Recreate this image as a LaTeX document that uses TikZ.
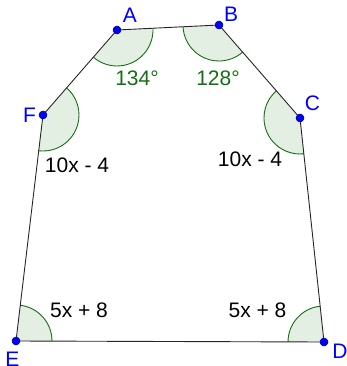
\documentclass[tikz,border=0pt]{standalone}
\usepackage{fontspec}
\setmainfont{Liberation Sans}
\usepackage{xcolor}
\usepackage{tikz}
\usetikzlibrary{angles}
\definecolor{anggreen}{RGB}{20,110,20}
\definecolor{angfill}{RGB}{228,239,228}
\definecolor{ptblue}{RGB}{0,0,255}

\begin{document}
\begin{tikzpicture}[x=1pt,y=1pt,
    pt/.style={circle,fill=ptblue,draw=ptblue!45!black,line width=0.5pt,inner sep=0pt,minimum size=8pt},
    ptlbl/.style={text=ptblue,inner sep=0pt,font=\fontsize{21}{25}\selectfont},
    val/.style={inner sep=0pt,font=\fontsize{21}{25}\selectfont},
    ang/.style={draw=anggreen,fill=angfill,line width=0.9pt,angle radius=36pt}]
      \useasboundingbox (0,0) rectangle (346,-366);
      \coordinate (A) at (117,-30);
      \coordinate (B) at (219,-25);
      \coordinate (C) at (300,-118);
      \coordinate (D) at (324,-342);
      \coordinate (E) at (16,-341);
      \coordinate (F) at (43,-115);
      % angle sectors
      \pic[ang] {angle = F--A--B};
      \pic[ang] {angle = A--B--C};
      \pic[ang] {angle = B--C--D};
      \pic[ang] {angle = C--D--E};
      \pic[ang] {angle = D--E--F};
      \pic[ang] {angle = E--F--A};
      % sides
      \draw[black!85,line width=0.9pt] (A) -- (B) -- (C) -- (D) -- (E) -- (F) -- cycle;
      \node[pt] (dA) at (A) {};
      \node[pt] (dB) at (B) {};
      \node[pt] (dC) at (C) {};
      \node[pt] (dD) at (D) {};
      \node[pt] (dE) at (E) {};
      \node[pt] (dF) at (F) {};
      \node[ptlbl] (lA) at (130,-15) {A};
      \node[ptlbl] (lB) at (231,-14.5) {B};
      \node[ptlbl] (lC) at (312.5,-103.5) {C};
      \node[ptlbl] (lD) at (340,-351) {D};
      \node[ptlbl] (lE) at (12.5,-359) {E};
      \node[ptlbl] (lF) at (29.5,-115) {F};
      \node[val,text=anggreen] (vA) at (137,-78) {134°};
      \node[val,text=anggreen] (vB) at (218,-78) {128°};
      \node[val] (vF) at (77,-165) {10x - 4};
      \node[val] (vC) at (250,-159.5) {10x - 4};
      \node[val] (vE) at (79,-310.5) {5x + 8};
      \node[val] (vD) at (257.5,-310.5) {5x + 8};
\end{tikzpicture}
\end{document}
